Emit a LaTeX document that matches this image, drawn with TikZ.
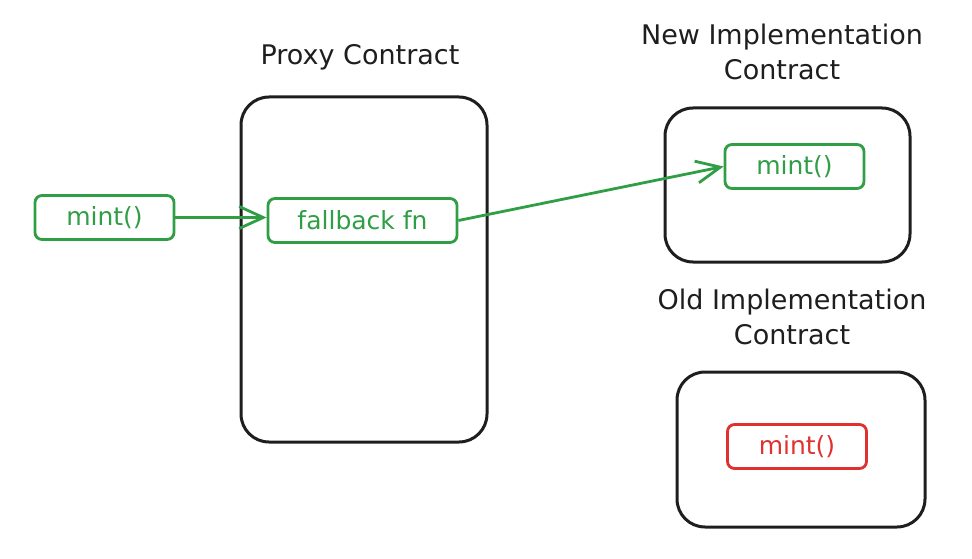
\documentclass[tikz,border=0pt]{standalone}
\usepackage{fontspec}
\setmainfont{DejaVu Sans}
\usetikzlibrary{arrows.meta}
\definecolor{inkblack}{RGB}{30,30,30}
\definecolor{inkgreen}{RGB}{47,158,68}
\definecolor{inkred}{RGB}{224,49,49}
\tikzset{
  contract/.style = {draw=inkblack, line width=3pt, rounded corners=28pt,
    inner sep=0pt},
  fnbox/.style = {draw=inkgreen, text=inkgreen, line width=2.8pt,
    rounded corners=7pt, inner sep=0pt, minimum width=139pt,
    minimum height=44pt, font=\fontsize{25}{28}\selectfont},
  title/.style = {align=center, text=inkblack,
    font=\fontsize{27}{35}\selectfont},
}

\begin{document}
\begin{tikzpicture}[x=1pt,y=-1pt,line width=2.8pt,
  >={Straight Barb[length=24pt,width=22pt,line width=2.8pt]}]
\useasboundingbox (0,0) rectangle (972,559);
% contracts
\node [contract, minimum width=246pt, minimum height=345pt] (proxy) at (364,269.5) {};
\node [contract, minimum width=245pt, minimum height=154pt] (newimpl) at (787.5,185) {};
\node [contract, minimum width=248pt, minimum height=155pt] (oldimpl) at (801,449.5) {};
% titles
\node [title] (proxytitle) at (360,57) {Proxy Contract};
\node [title] (newtitle) at (782,52) {New Implementation\\Contract};
\node [title] (oldtitle) at (792,317) {Old Implementation\\Contract};
% functions
\node [fnbox] (call) at (104.5,217.5) {mint()};
\node [fnbox, minimum width=189pt] (fallback) at (362.5,220.5) {fallback fn};
\node [fnbox] (newmint) at (794.5,166.5) {mint()};
\node [fnbox, draw=inkred, text=inkred] (oldmint) at (797,446.5) {mint()};
% calls
\draw [->, inkgreen] (call.east) -- (call.east -| fallback.west);
\draw [->, inkgreen] (fallback.east) -- (newmint.west);
\end{tikzpicture}
\end{document}
